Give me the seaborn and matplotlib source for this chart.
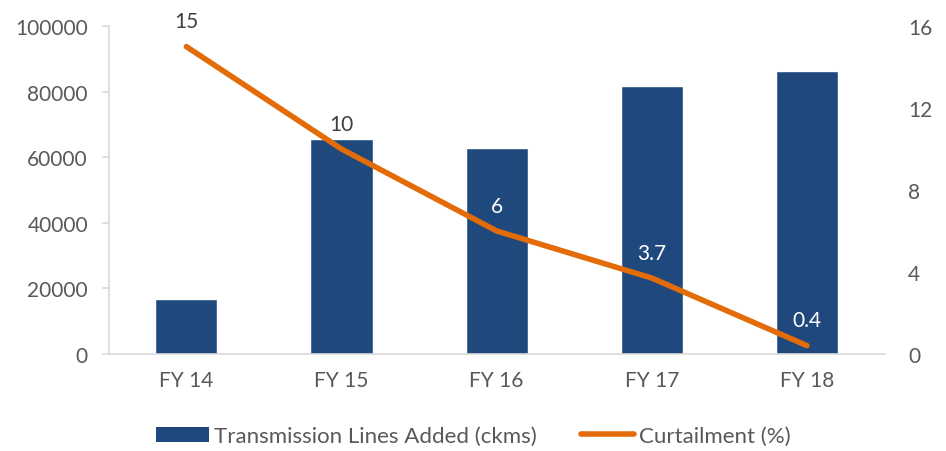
import matplotlib
matplotlib.use("Agg")
import matplotlib.pyplot as plt
import numpy as np
import pandas as pd
import seaborn as sns
from matplotlib.lines import Line2D
from matplotlib.patches import Patch

years = ["FY 14", "FY 15", "FY 16", "FY 17", "FY 18"]
lines_added = [16800, 65600, 62800, 81800, 86200]
curtailment = [15, 10, 6, 3.7, 0.4]
curtailment_labels = ["15", "10", "6", "3.7", "0.4"]
label_on_bar = [False, False, True, True, True]

BAR_COLOR = "#1F497D"
LINE_COLOR = "#E36C09"
TEXT_COLOR = "#595959"
AXIS_COLOR = "#D9D9D9"
FS = 15


def main() -> None:
    sns.set_style("white")
    plt.rcParams["font.family"] = ["Lato", "DejaVu Sans"]

    df = pd.DataFrame({"year": years, "lines": lines_added, "curt": curtailment})

    fig = plt.figure(figsize=(9.46, 4.52), dpi=100)
    ax = fig.add_axes([0.115, 0.215, 0.82, 0.725])
    sns.barplot(data=df, x="year", y="lines", color=BAR_COLOR, width=0.4,
                saturation=1, ax=ax)
    ax.set_xlim(-0.5, 4.5)
    ax.set_ylim(0, 100000)
    ax.set_yticks(np.arange(0, 100001, 20000))
    ax.set_xlabel("")
    ax.set_ylabel("")
    for side in ["top", "right"]:
        ax.spines[side].set_visible(False)
    for side in ["left", "bottom"]:
        ax.spines[side].set_color(AXIS_COLOR)
        ax.spines[side].set_linewidth(1.2)
    ax.tick_params(axis="y", colors=AXIS_COLOR, labelcolor=TEXT_COLOR,
                   labelsize=FS, length=5, width=1.2, left=True, pad=10)
    ax.tick_params(axis="x", labelcolor=TEXT_COLOR, labelsize=FS, length=0, pad=12)

    ax2 = ax.twinx()
    xs = np.arange(len(years))
    sns.lineplot(x=xs, y=curtailment, color=LINE_COLOR, linewidth=4, ax=ax2,
                 solid_capstyle="round")
    ax2.set_ylim(0, 16)
    ax2.set_yticks([0, 4, 8, 12, 16])
    for side in ["top", "right", "left", "bottom"]:
        ax2.spines[side].set_visible(False)
    ax2.tick_params(axis="y", labelcolor=TEXT_COLOR, labelsize=FS, length=0, pad=17)
    ax2.set_xlim(-0.5, 4.5)

    for x, y, txt, on_bar in zip(xs, curtailment, curtailment_labels, label_on_bar):
        ax2.annotate(txt, (x, y), xytext=(0, 11), textcoords="offset points",
                     ha="center", va="bottom", fontsize=FS,
                     color="white" if on_bar else "#404040")

    handles = [
        Patch(facecolor=BAR_COLOR, edgecolor="none"),
        Line2D([0], [0], color=LINE_COLOR, linewidth=4),
    ]
    fig.legend(handles, ["Transmission Lines Added (ckms)", "Curtailment (%)"],
               loc="center", bbox_to_anchor=(0.5, 0.033), ncol=2, frameon=False,
               fontsize=16, labelcolor=TEXT_COLOR, handlelength=2.4,
               handletextpad=0.2, columnspacing=2.0)

    fig.savefig("out.png", dpi=100)


if __name__ == "__main__":
    main()
